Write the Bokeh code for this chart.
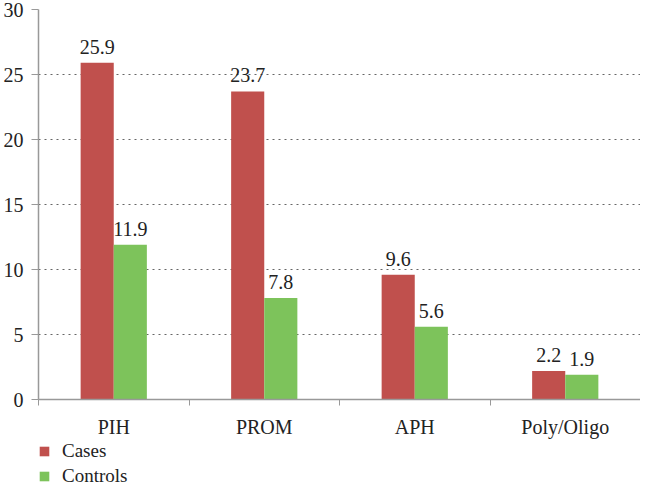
from bokeh.plotting import figure
from bokeh.layouts import column
from bokeh.models import ColumnDataSource, FixedTicker, Legend, LegendItem, Range1d
from bokeh.transform import dodge
from bokeh.embed import file_html
from bokeh.resources import INLINE

categories = ["PIH", "PROM", "APH", "Poly/Oligo"]
cases = [25.9, 23.7, 9.6, 2.2]
controls = [11.9, 7.8, 5.6, 1.9]
y_ticks = [0, 5, 10, 15, 20, 25, 30]
series_names = ["Cases", "Controls"]

RED = "#C0504D"
GREEN = "#7DC35B"
FONT = "Liberation Serif"
FS = "20px"

idx = [i + 0.5 for i in range(len(categories))]
src = ColumnDataSource(dict(
    x=idx, cases=cases, controls=controls,
    cases_lbl=[f"{v:.1f}" for v in cases],
    controls_lbl=[f"{v:.1f}" for v in controls],
))

p = figure(width=640, height=440, output_backend="svg", toolbar_location=None,
           x_range=Range1d(0, len(categories)), y_range=Range1d(0, 30),
           min_border_left=32, min_border_right=0, min_border_top=9, min_border_bottom=0)
p.outline_line_color = None
p.background_fill_color = "white"
p.border_fill_color = "white"

w = 0.22
p.vbar(x=dodge("x", -w / 2, range=p.x_range), top="cases", width=w, source=src,
       fill_color=RED, line_color=None)
p.vbar(x=dodge("x", w / 2, range=p.x_range), top="controls", width=w, source=src,
       fill_color=GREEN, line_color=None)

p.text(x=dodge("x", -w / 2, range=p.x_range), y="cases", text="cases_lbl", source=src,
       text_align="center", text_baseline="bottom", y_offset=-9,
       text_font=FONT, text_font_size=FS, text_color="#222222")
p.text(x=dodge("x", w / 2, range=p.x_range), y="controls", text="controls_lbl", source=src,
       text_align="center", text_baseline="bottom", y_offset=-9,
       text_font=FONT, text_font_size=FS, text_color="#222222")

# x axis
p.xaxis.ticker = FixedTicker(ticks=idx, minor_ticks=list(range(len(categories) + 1)))
p.xaxis.major_label_overrides = {v: c for v, c in zip(idx, categories)}
p.xaxis.major_tick_out = 0
p.xaxis.major_tick_in = 0
p.xaxis.minor_tick_out = 6
p.xaxis.minor_tick_in = 0
p.xaxis.minor_tick_line_color = "#999999"
p.xaxis.axis_line_color = "#999999"
p.xaxis.axis_line_width = 1.5
p.xaxis.major_label_standoff = 10
p.xaxis.major_label_text_font = FONT
p.xaxis.major_label_text_font_size = FS
p.xaxis.major_label_text_color = "#222222"

# y axis
p.yaxis.ticker = FixedTicker(ticks=y_ticks, minor_ticks=[])
p.yaxis.major_tick_out = 7
p.yaxis.major_tick_in = 0
p.yaxis.major_tick_line_color = "#999999"
p.yaxis.axis_line_color = "#999999"
p.yaxis.axis_line_width = 1.5
p.yaxis.major_label_standoff = 8
p.yaxis.major_label_text_font = FONT
p.yaxis.major_label_text_font_size = FS
p.yaxis.major_label_text_color = "#222222"

p.xgrid.grid_line_color = None
p.ygrid.ticker = FixedTicker(ticks=y_ticks[1:])
p.ygrid.grid_line_color = "#666666"
p.ygrid.grid_line_dash = "2 4"
p.ygrid.grid_line_width = 1

# legend strip below the chart
p2 = figure(width=640, height=47, output_backend="svg", toolbar_location=None,
            x_axis_location=None, y_axis_location=None,
            x_range=Range1d(0, 1), y_range=Range1d(0, 1),
            min_border_left=34, min_border_right=0, min_border_top=0, min_border_bottom=0)
p2.outline_line_color = None
p2.background_fill_color = "white"
p2.border_fill_color = "white"
p2.xgrid.grid_line_color = None
p2.ygrid.grid_line_color = None
# zero-height proxy bars that only carry the legend styles
l1 = p2.vbar(x=[0.5], top=[0], bottom=[0], width=0.01, fill_color=RED, line_color=None)
l2 = p2.vbar(x=[0.5], top=[0], bottom=[0], width=0.01, fill_color=GREEN, line_color=None)
legend = Legend(items=[LegendItem(label=series_names[0], renderers=[l1]),
                       LegendItem(label=series_names[1], renderers=[l2])],
                orientation="vertical", location="top_left",
                glyph_width=12, glyph_height=12, label_standoff=12,
                label_text_font=FONT, label_text_font_size="19px",
                label_text_color="#222222", label_height=20, spacing=3,
                padding=0, margin=0, border_line_color=None,
                background_fill_alpha=0)
p2.add_layout(legend, "center")

layout = column(p, p2, spacing=0)
open("out.html", "w").write(file_html(layout, INLINE))
